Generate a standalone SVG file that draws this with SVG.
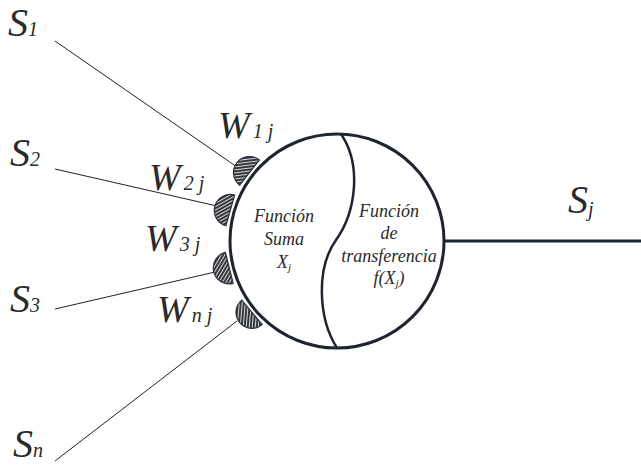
<svg xmlns="http://www.w3.org/2000/svg" width="641" height="466" viewBox="0 0 641 466">
<defs>
<pattern id="hatch" patternUnits="userSpaceOnUse" width="3" height="3" patternTransform="rotate(45)">
<rect width="3" height="3" fill="#34373d"/>
<line x1="1.5" y1="0" x2="1.5" y2="3" stroke="#ffffff" stroke-width="0.8"/>
</pattern>
<path id="half" d="M0,-16 A16,16 0 0 0 0,16 Z" fill="url(#hatch)" stroke="#2a2f38" stroke-width="1.2"/>
</defs>
<style>
.lbl{font-family:"Liberation Serif","DejaVu Serif",serif;font-style:italic;fill:#2a2a2a}
.big{font-size:40px}
.w{font-size:38px}
.in{font-size:18px;text-anchor:middle}
.thin{stroke:#222;stroke-width:1;fill:none}
</style>
<rect width="641" height="466" fill="#ffffff"/>
<g id="connectors">
<line class="thin" x1="55" y1="41" x2="237" y2="167"/>
<line class="thin" x1="55" y1="169" x2="217" y2="206"/>
<line class="thin" x1="55" y1="309" x2="215" y2="272"/>
<line class="thin" x1="55" y1="461" x2="237" y2="321"/>
<line x1="444" y1="241" x2="641" y2="241" stroke="#1f2530" stroke-width="3"/>
</g>
<g id="neuron">
<circle cx="337" cy="241" r="107" fill="#ffffff" stroke="#1f2530" stroke-width="3"/>
<path d="M341,134 C362,165 356,212 336,240 C316,268 318,318 337,348" fill="none" stroke="#1f2530" stroke-width="2.5"/>
<text class="lbl in" x="284" y="222">Función</text>
<text class="lbl in" x="284" y="245">Suma</text>
<text class="lbl in" x="284" y="268">X<tspan font-size="11" dy="3">j</tspan></text>
<text class="lbl in" x="389" y="217">Función</text>
<text class="lbl in" x="389" y="239">de</text>
<text class="lbl in" x="389" y="262">transferencia</text>
<text class="lbl in" x="389" y="284">f(X<tspan font-size="11" dy="3">j</tspan><tspan dy="-3">)</tspan></text>
</g>
<g id="w1"><use href="#half" transform="translate(249.5,172.6) rotate(38)"/></g>
<g id="w2"><use href="#half" transform="translate(230.3,210.4) rotate(16)"/></g>
<g id="w3"><use href="#half" transform="translate(229.3,267.9) rotate(-14)"/></g>
<g id="wn"><use href="#half" transform="translate(252,312.4) rotate(-40)"/></g>
<g id="s1"><text class="lbl big" x="8" y="36">S<tspan font-size="20">1</tspan></text></g>
<g id="s2"><text class="lbl big" x="10" y="166">S<tspan font-size="20">2</tspan></text></g>
<g id="s3"><text class="lbl big" x="10" y="312">S<tspan font-size="20">3</tspan></text></g>
<g id="sn"><text class="lbl big" x="13" y="457">S<tspan font-size="20">n</tspan></text></g>
<g id="sj"><text class="lbl big" x="568" y="213">S<tspan font-size="20" dy="3">j</tspan></text></g>
<g id="lw1"><text class="lbl w" x="218" y="138">W<tspan font-size="20" dx="3">1 j</tspan></text></g>
<g id="lw2"><text class="lbl w" x="149" y="190">W<tspan font-size="20" dx="3">2 j</tspan></text></g>
<g id="lw3"><text class="lbl w" x="145" y="251">W<tspan font-size="20" dx="3">3 j</tspan></text></g>
<g id="lwn"><text class="lbl w" x="157" y="322">W<tspan font-size="20" dx="3">n j</tspan></text></g>
</svg>
